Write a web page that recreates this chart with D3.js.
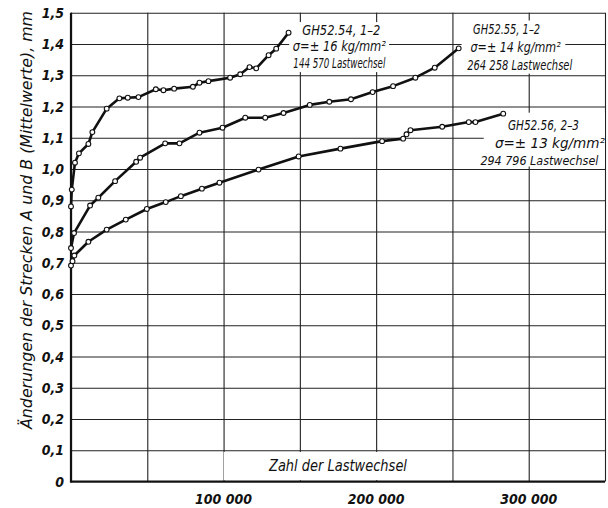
<!DOCTYPE html>
<html><head><meta charset="utf-8">
<script src="https://cdn.jsdelivr.net/npm/d3@7"></script>
<style>
html,body{margin:0;padding:0;background:#fff;}
svg{display:block;}
text{font-family:"Liberation Sans Narrow","DejaVu Sans Condensed","Liberation Sans",sans-serif;font-style:italic;fill:#111;}
</style></head>
<body><svg id="c" width="608" height="508"></svg>
<script>
// ---- data ----
const yTicks = [0,0.1,0.2,0.3,0.4,0.5,0.6,0.7,0.8,0.9,1.0,1.1,1.2,1.3,1.4,1.5];
const xGrid = [0,50000,100000,150000,200000,250000,300000,350000];
const xTickLabels = [100000,200000,300000];

const s1x = [0,500,2600,5200,11400,14000,23400,31700,37200,44200,55600,60600,67600,79900,84200,90100,104300,110900,117000,121400,129500,134500,142600];
const s1y = [0.88,0.934,1.02,1.05,1.08,1.118,1.193,1.226,1.228,1.23,1.255,1.252,1.257,1.263,1.276,1.281,1.292,1.303,1.326,1.322,1.364,1.385,1.436];

const s2x = [0,2000,12500,17900,28900,42700,45300,61700,71100,84200,99300,114200,127300,139300,156500,169300,183500,197700,211100,225700,238400,254100];
const s2y = [0.747,0.795,0.883,0.908,0.961,1.023,1.036,1.082,1.082,1.116,1.132,1.164,1.164,1.179,1.205,1.215,1.223,1.246,1.265,1.292,1.324,1.386];

const s3x = [0,1000,2200,11400,23400,35900,49700,62100,72000,85800,97300,122900,149200,176600,203900,217700,219900,222500,243300,260700,265100,283300];
const s3y = [0.691,0.705,0.723,0.767,0.806,0.838,0.872,0.894,0.913,0.937,0.956,0.998,1.04,1.065,1.089,1.097,1.111,1.124,1.135,1.15,1.15,1.177];

const ann1 = ["GH52.54, 1–2","σ=± 16 kg/mm²","144 570 Lastwechsel"];
const ann2 = ["GH52.55, 1–2","σ=± 14 kg/mm²","264 258 Lastwechsel"];
const ann3 = ["GH52.56, 2–3","σ=± 13 kg/mm²","294 796 Lastwechsel"];
const xTitle = "Zahl der Lastwechsel";
const yTitle = "Änderungen der Strecken A und B (Mittelwerte), mm";

// ---- layout ----
const L=71, R=605, T=12.7, B=481.5;
const svg = d3.select("#c");
const x = d3.scaleLinear().domain([0,350000]).range([L,R]);
const y = d3.scaleLinear().domain([0,1.5]).range([B,T]);

// grid
const g = svg.append("g");
g.append("g").attr("transform",`translate(${L},0)`)
 .call(d3.axisLeft(y).tickValues(yTicks).tickSize(-(R-L)).tickFormat(""))
 .call(a=>a.select(".domain").remove())
 .call(a=>a.selectAll("line").attr("stroke","#222").attr("stroke-width",1.1));
g.append("g").attr("transform",`translate(0,${B})`)
 .call(d3.axisBottom(x).tickValues(xGrid).tickSize(-(B-T)).tickFormat(""))
 .call(a=>a.select(".domain").remove())
 .call(a=>a.selectAll("line").attr("stroke","#222").attr("stroke-width",1.1));

// white boxes behind labels
function box(x0,y0,x1,y1){svg.append("rect").attr("x",x(x0)).attr("y",y(y0)).attr("width",x(x1)-x(x0)).attr("height",y(y1)-y(y0)).attr("fill","#fff");}
box(143000,1.47,208500,1.31);
box(256000,1.475,324000,1.305);
box(270500,1.18,350000,1.008);
box(100200,0.0945,249800,0.004);

// axes thick lines
svg.append("line").attr("x1",L).attr("x2",L).attr("y1",T).attr("y2",B+1).attr("stroke","#111").attr("stroke-width",2.2);
svg.append("line").attr("x1",L-1).attr("x2",R).attr("y1",B).attr("y2",B).attr("stroke","#111").attr("stroke-width",2.2);

// y tick labels
svg.append("g").selectAll("text").data(yTicks).join("text")
 .attr("x",64).attr("y",d=>y(d)).attr("dy","0.36em").attr("text-anchor","end")
 .style("font-weight","bold").style("font-size","14px")
 .text(d=>d===0?"0":d3.format(".1f")(d).replace(".",","));

// x tick labels
svg.append("g").selectAll("text").data(xTickLabels).join("text")
 .attr("x",d=>x(d)).attr("y",499).attr("dy","0.36em").attr("text-anchor","middle")
 .style("font-weight","bold").style("font-size","14px")
 .text(d=>d3.format(",")(d).replace(/,/g," "));

// titles
svg.append("text").attr("x",x(175000)).attr("y",y(0.05)).attr("dy","0.36em").attr("text-anchor","middle")
 .style("font-size","15px").attr("textLength",138).attr("lengthAdjust","spacingAndGlyphs").text(xTitle);
svg.append("text").attr("transform","translate(27,220) rotate(-90)").attr("dy","0.36em").attr("text-anchor","middle")
 .style("font-size","15px").attr("textLength",418).attr("lengthAdjust","spacingAndGlyphs").text(yTitle);

// curves
const series=[[s1x,s1y],[s2x,s2y],[s3x,s3y]];
const line=d3.line().x(d=>x(d[0])).y(d=>y(d[1]));
series.forEach(([xs,ys])=>{
  const pts=xs.map((v,i)=>[v,ys[i]]);
  svg.append("path").attr("d",line(pts)).attr("fill","none").attr("stroke","#111").attr("stroke-width",2.6).attr("stroke-linejoin","round");
  svg.append("g").selectAll("circle").data(pts).join("circle")
   .attr("cx",d=>x(d[0])).attr("cy",d=>y(d[1])).attr("r",2.4).attr("fill","#fff").attr("stroke","#111").attr("stroke-width",1.1);
});

// annotations
function ann(lines,cxs,ys,lens,fs){
  lines.forEach((t,i)=>{
    svg.append("text").attr("x",x(cxs[i])).attr("y",y(ys[i])).attr("dy","0.36em").attr("text-anchor","middle")
     .style("font-size",(fs?fs[i]:13.5)+"px").attr("textLength",lens[i]).attr("lengthAdjust","spacingAndGlyphs").text(t);
  });
}
ann(ann1,[177200,175900,175900],[1.443,1.394,1.338],[78,93,92]);
ann(ann2,[285500,291400,294100],[1.447,1.391,1.331],[67,90,105]);
ann(ann3,[309700,313900,307000],[1.141,1.082,1.027],[71,110,118],[13.5,13.5,12.5]);
</script></body></html>
